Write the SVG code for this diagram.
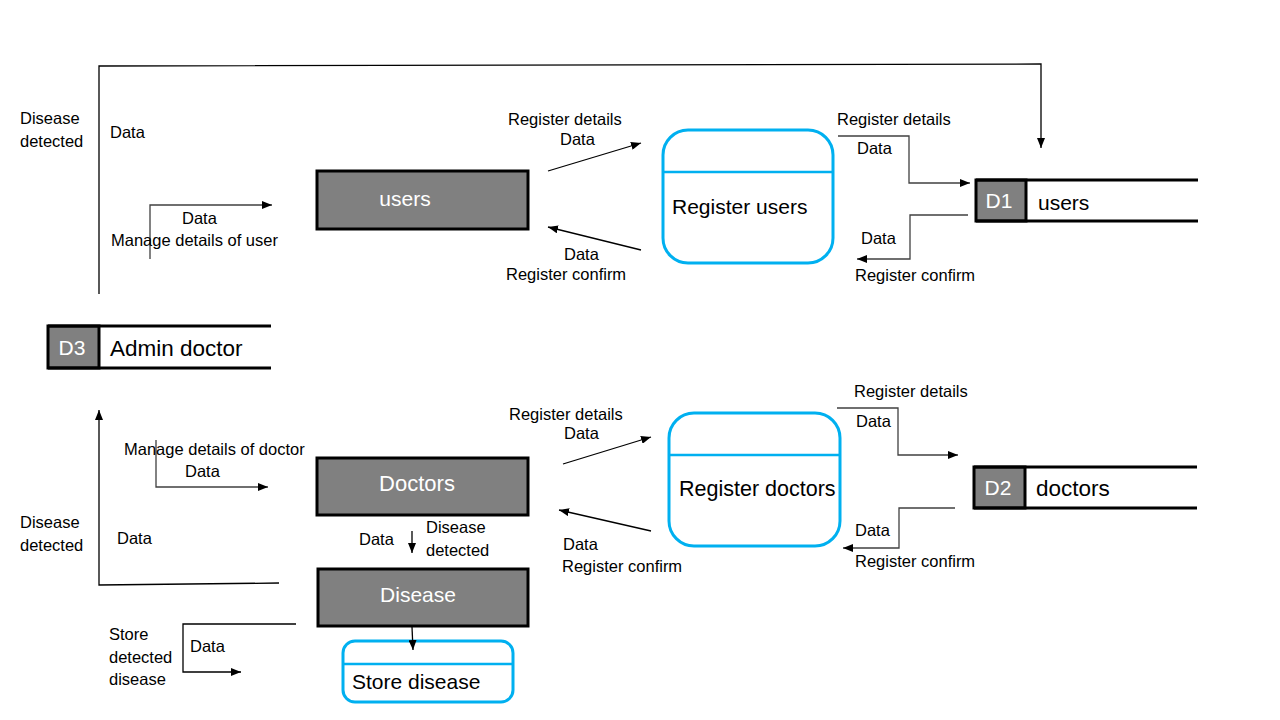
<svg xmlns="http://www.w3.org/2000/svg" width="1280" height="720" viewBox="0 0 1280 720">
<style>
.lbl{font-family:"Liberation Sans",Arial,sans-serif;font-size:16.5px;fill:#000}
.big{font-family:"Liberation Sans",Arial,sans-serif;font-size:21px;fill:#000}
.wt{font-family:"Liberation Sans",Arial,sans-serif;font-size:21px;fill:#fff}
.ent{fill:#808080;stroke:#000;stroke-width:3}
.proc{fill:#fff;stroke:#00B0F0;stroke-width:3}
.div{stroke:#00B0F0;stroke-width:2.5}
.store{stroke:#000;stroke-width:3;fill:none}
.sid{fill:#808080;stroke:#000;stroke-width:3}
.cn{fill:none;stroke:#000;stroke-width:1.3}
.cg{fill:none;stroke:#404040;stroke-width:1.3}
</style>
<defs>
<marker id="ah" viewBox="0 0 10 8" refX="10" refY="4" markerWidth="10" markerHeight="8" markerUnits="userSpaceOnUse" orient="auto">
<path d="M0,0 L10,4 L0,8 Z" fill="#000"/>
</marker>
</defs>
<rect width="1280" height="720" fill="#fff"/>

<g id="users">
<rect class="ent" x="317" y="171" width="211" height="58"/>
<text class="wt" x="405" y="206" text-anchor="middle">users</text>
</g>
<g id="register-users">
<rect class="proc" x="663" y="130" width="170" height="133" rx="25"/>
<line class="div" x1="663" y1="172" x2="833" y2="172"/>
<text class="big" x="672" y="214">Register users</text>
</g>
<g id="d1-users">
<rect class="sid" x="976" y="180" width="50" height="41"/>
<line class="store" x1="976" y1="180" x2="1198" y2="180"/>
<line class="store" x1="976" y1="221" x2="1198" y2="221"/>
<text class="wt" x="999" y="208" text-anchor="middle">D1</text>
<text class="big" x="1038" y="210">users</text>
</g>
<g id="d3-admin-doctor">
<rect class="sid" x="48" y="326" width="51" height="42"/>
<line class="store" x1="48" y1="326" x2="271" y2="326"/>
<line class="store" x1="48" y1="368" x2="271" y2="368"/>
<text class="wt" x="72" y="355" text-anchor="middle">D3</text>
<text class="big" x="110" y="356" style="font-size:22.5px">Admin doctor</text>
</g>
<g id="doctors">
<rect class="ent" x="317" y="458" width="211" height="57"/>
<text class="wt" x="417" y="491" text-anchor="middle" style="font-size:22px">Doctors</text>
</g>
<g id="register-doctors">
<rect class="proc" x="669" y="413" width="171" height="133" rx="25"/>
<line class="div" x1="669" y1="455" x2="840" y2="455"/>
<text class="big" x="679" y="496" style="font-size:21.5px">Register doctors</text>
</g>
<g id="d2-doctors">
<rect class="sid" x="974" y="467" width="51" height="41"/>
<line class="store" x1="974" y1="467" x2="1197" y2="467"/>
<line class="store" x1="974" y1="508" x2="1197" y2="508"/>
<text class="wt" x="998" y="495" text-anchor="middle">D2</text>
<text class="big" x="1036" y="496" style="font-size:22.5px">doctors</text>
</g>
<g id="disease">
<rect class="ent" x="318" y="569" width="210" height="57"/>
<text class="wt" x="418" y="602" text-anchor="middle">Disease</text>
</g>
<g id="store-disease">
<rect class="proc" x="343" y="641" width="170" height="61" rx="12"/>
<line class="div" x1="343" y1="664" x2="513" y2="664"/>
<text class="big" x="352" y="689">Store disease</text>
</g>

<g id="connectors">
<polyline class="cn" points="99,294 99,66 1041,64 1041,148" marker-end="url(#ah)"/>
<polyline class="cg" points="150,259 150,205 272,205" marker-end="url(#ah)"/>
<line class="cn" x1="548" y1="171" x2="641" y2="143" marker-end="url(#ah)"/>
<line class="cn" x1="641" y1="250" x2="548" y2="227" marker-end="url(#ah)"/>
<polyline class="cg" points="838,136 909,136 909,183 970,183" marker-end="url(#ah)"/>
<polyline class="cg" points="968,215 910,215 910,259 857,259" marker-end="url(#ah)"/>
<polyline class="cn" points="279,583 99,585 99,410" marker-end="url(#ah)"/>
<polyline class="cg" points="156,440 156,487 268,487" marker-end="url(#ah)"/>
<line class="cn" x1="563" y1="464" x2="651" y2="437" marker-end="url(#ah)"/>
<line class="cn" x1="651" y1="531" x2="559" y2="510" marker-end="url(#ah)"/>
<polyline class="cg" points="837,408 898,408 898,455 958,455" marker-end="url(#ah)"/>
<polyline class="cg" points="955,508 899,508 899,548 843,548" marker-end="url(#ah)"/>
<line class="cn" x1="412" y1="531" x2="412" y2="553" marker-end="url(#ah)"/>
<line class="cn" x1="412" y1="627" x2="413" y2="650" marker-end="url(#ah)"/>
<polyline class="cn" points="296,624 183,624 183,672 241,672" marker-end="url(#ah)"/>
</g>

<g id="labels">
<text class="lbl" x="20" y="124">Disease</text>
<text class="lbl" x="20" y="147">detected</text>
<text class="lbl" x="110" y="138">Data</text>
<text class="lbl" x="182" y="224">Data</text>
<text class="lbl" x="111" y="246">Manage details of user</text>
<text class="lbl" x="508" y="125">Register details</text>
<text class="lbl" x="560" y="145">Data</text>
<text class="lbl" x="564" y="260">Data</text>
<text class="lbl" x="506" y="280">Register confirm</text>
<text class="lbl" x="837" y="125">Register details</text>
<text class="lbl" x="857" y="154">Data</text>
<text class="lbl" x="861" y="244">Data</text>
<text class="lbl" x="855" y="281">Register confirm</text>
<text class="lbl" x="124" y="455">Manage details of doctor</text>
<text class="lbl" x="185" y="477">Data</text>
<text class="lbl" x="20" y="528">Disease</text>
<text class="lbl" x="20" y="551">detected</text>
<text class="lbl" x="117" y="544">Data</text>
<text class="lbl" x="509" y="420">Register details</text>
<text class="lbl" x="564" y="439">Data</text>
<text class="lbl" x="563" y="550">Data</text>
<text class="lbl" x="562" y="572">Register confirm</text>
<text class="lbl" x="854" y="397">Register details</text>
<text class="lbl" x="856" y="427">Data</text>
<text class="lbl" x="855" y="536">Data</text>
<text class="lbl" x="855" y="567">Register confirm</text>
<text class="lbl" x="359" y="545">Data</text>
<text class="lbl" x="426" y="533">Disease</text>
<text class="lbl" x="426" y="556">detected</text>
<text class="lbl" x="109" y="640">Store</text>
<text class="lbl" x="109" y="663">detected</text>
<text class="lbl" x="109" y="685">disease</text>
<text class="lbl" x="190" y="652">Data</text>
</g>
</svg>
